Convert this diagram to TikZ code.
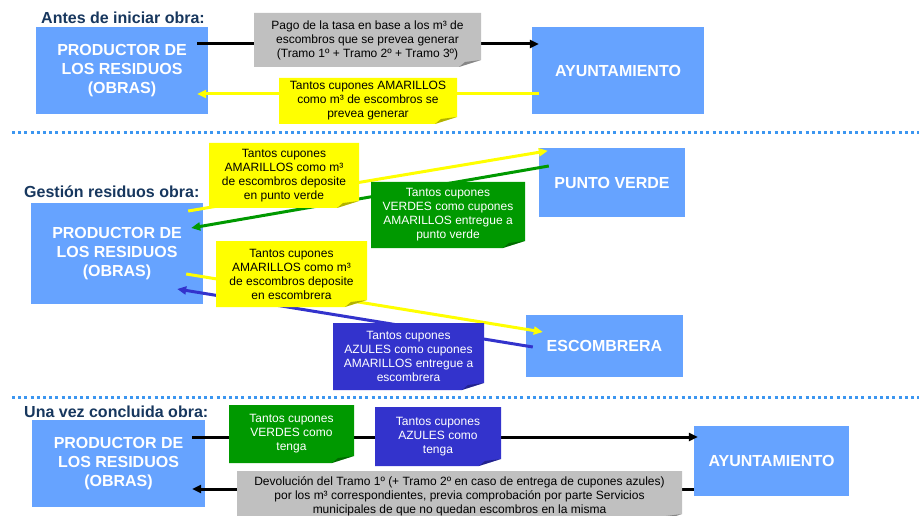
\documentclass[tikz,border=0pt]{standalone}
\usepackage{fontspec}
\setmainfont{Liberation Sans}
\usetikzlibrary{arrows.meta, calc}
\definecolor{boxblue}{RGB}{102,163,255}
\definecolor{headnavy}{RGB}{23,55,94}
\definecolor{notegray}{RGB}{192,192,192}
\definecolor{noteyel}{RGB}{255,255,0}
\definecolor{notegrn}{RGB}{0,153,0}
\definecolor{noteblu}{RGB}{51,51,204}
\definecolor{sepblue}{RGB}{60,150,240}
\tikzset{
  BX/.style={fill=boxblue,rectangle,font=\fontsize{16}{19}\selectfont\bfseries\color{white},align=center,inner sep=2pt},
  NT/.style={rectangle,align=center,inner sep=2pt,font=\fontsize{12}{14}\selectfont,
    path picture={
      \fill[#1](path picture bounding box.south west)--(path picture bounding box.north west)--(path picture bounding box.north east)--([yshift=7pt]path picture bounding box.south east)--([xshift=-22pt]path picture bounding box.south east)--cycle;
      \fill[black,opacity=.3]([xshift=-22pt]path picture bounding box.south east)--([yshift=7pt]path picture bounding box.south east)--([xshift=-16pt,yshift=5pt]path picture bounding box.south east)--cycle;}},
  HD/.style={anchor=west,inner sep=0pt,font=\fontsize{16}{19}\selectfont\bfseries\color{headnavy}},
  FL/.style={line width=3pt,-{Triangle[length=9pt,width=8pt]}},
  SEP/.style={sepblue,line width=3pt,dash pattern=on 3pt off 3.2pt},
}

\begin{document}
\begin{tikzpicture}[x=1pt,y=-1pt]
\useasboundingbox (0,0) rectangle (919,516);

% Headings
\node[HD](h1) at (41,18){Antes de iniciar obra:};
\node[HD](h2) at (24,192){Gestión residuos obra:};
\node[HD](h3) at (24,412){Una vez concluida obra:};

% Boxes
\node[BX,minimum width=172pt,minimum height=87pt](prod1)  at (122,70.5){PRODUCTOR DE\\LOS RESIDUOS\\(OBRAS)};
\node[BX,minimum width=172pt,minimum height=87pt](ayto1)  at (618,70.5){AYUNTAMIENTO};
\node[BX,minimum width=172pt,minimum height=101pt](prod2) at (117,253.5){PRODUCTOR DE\\LOS RESIDUOS\\(OBRAS)};
\node[BX,minimum width=146pt,minimum height=69pt](pverde) at (612,182.5){PUNTO VERDE};
\node[BX,minimum width=157pt,minimum height=62pt](escomb) at (604.5,346){ESCOMBRERA};
\node[BX,minimum width=173pt,minimum height=87pt](prod3)  at (118.5,463.5){PRODUCTOR DE\\LOS RESIDUOS\\(OBRAS)};
\node[BX,minimum width=155pt,minimum height=70pt](ayto3)  at (771.5,461){AYUNTAMIENTO};

% Separators
\draw[SEP](12,133)--(919,133);
\draw[SEP](12,397)--(919,397);

% Antes de iniciar obra flows
\draw[FL,black]($(prod1.east)+(-11,-26.5)$)--($(ayto1.west)+(7,-26.5)$);
\draw[FL,noteyel]($(ayto1.west)+(7,23.5)$)--($(prod1.east)+(-11,23.5)$);

% Gestion residuos flows
\draw[FL,noteyel]($(prod2.east)+(-15,-42.5)$)--($(pverde.north west)+(9,3)$);
\draw[FL,notegrn]($(pverde.west)+(10,-16.5)$)--($(prod2.east)+(-12,-25.5)$);
\draw[FL,noteyel]($(prod2.east)+(-17,20.5)$)--($(escomb.west)+(17,-14)$);
\draw[FL,noteblu]($(escomb.west)+(7,1)$)--($(prod2.east)+(-26,35.5)$);

% Una vez concluida flows
\draw[FL,black]($(prod3.east)+(-13,-26.5)$)--($(ayto3.west)+(4,-24)$);
\draw[FL,black]($(ayto3.west)+(0,28)$)--($(prod3.east)+(-13,25.5)$);

% Notes
\node[NT=notegray,minimum width=227pt,minimum height=54pt](n1) at (367.5,40){Pago de la tasa en base a los m³ de\\escombros que se prevea generar\\(Tramo 1º + Tramo 2º + Tramo 3º)};
\node[NT=noteyel,minimum width=178pt,minimum height=46pt](n2)  at (368,101){Tantos cupones AMARILLOS\\como m³ de escombros se\\prevea generar};
\node[NT=noteyel,minimum width=150pt,minimum height=65pt](n3)  at (284,175.5){Tantos cupones\\AMARILLOS como m³\\de escombros deposite\\en punto verde};
\node[NT=notegrn,minimum width=154pt,minimum height=66pt,text=white](n4) at (448,215){Tantos cupones\\VERDES como cupones\\AMARILLOS entregue a\\punto verde};
\node[NT=noteyel,minimum width=151pt,minimum height=66pt](n5)  at (291.5,274){Tantos cupones\\AMARILLOS como m³\\de escombros deposite\\en escombrera};
\node[NT=noteblu,minimum width=151pt,minimum height=67pt,text=white](n6) at (408.5,356.5){Tantos cupones\\AZULES como cupones\\AMARILLOS entregue a\\escombrera};
\node[NT=notegrn,minimum width=125pt,minimum height=58pt,text=white](n7) at (291.5,434){Tantos cupones\\VERDES como\\tenga};
\node[NT=noteblu,minimum width=126pt,minimum height=59pt,text=white](n8) at (438,436.5){Tantos cupones\\AZULES como\\tenga};
\node[NT=notegray,minimum width=445pt,minimum height=50pt](n9) at (459.5,496){Devolución del Tramo 1º (+ Tramo 2º en caso de entrega de cupones azules)\\por los m³ correspondientes, previa comprobación por parte Servicios\\municipales de que no quedan escombros en la misma};

\end{tikzpicture}
\end{document}
